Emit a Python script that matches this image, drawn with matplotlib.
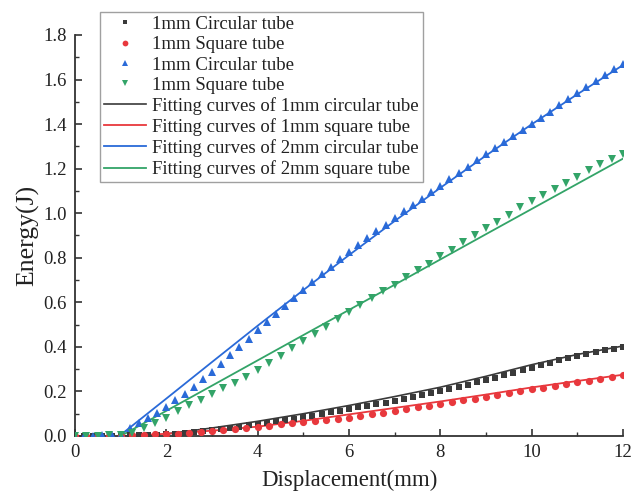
import numpy as np
import matplotlib
matplotlib.use("Agg")
import matplotlib.pyplot as plt
from matplotlib.ticker import MultipleLocator

plt.rcParams['font.family'] = ['Liberation Serif', 'DejaVu Serif']
plt.rcParams['mathtext.fontset'] = 'stix'

# ---- data ----
x_c1 = np.round(np.arange(0, 12.0001, 0.2), 2)   # circular tube series (squares, up triangles)
x_s = np.round(np.arange(0, 12.0001, 0.25), 2)   # square tube series (dots, down triangles)

circ1_y = [0.0, 0.0, 0.001, 0.001, 0.002, 0.002, 0.003, 0.004, 0.005, 0.006,
           0.009, 0.011, 0.014, 0.017, 0.021, 0.025, 0.030, 0.036, 0.042, 0.048,
           0.054, 0.060, 0.066, 0.072, 0.078, 0.085, 0.092, 0.099, 0.106, 0.114,
           0.122, 0.129, 0.136, 0.143, 0.150, 0.158, 0.166, 0.174, 0.183, 0.192,
           0.201, 0.211, 0.221, 0.231, 0.241, 0.252, 0.262, 0.273, 0.284, 0.295,
           0.306, 0.317, 0.328, 0.339, 0.349, 0.358, 0.367, 0.376, 0.384, 0.392,
           0.400]

sq1_y = [0.0, 0.0, 0.001, 0.001, 0.002, 0.003, 0.005, 0.007, 0.009, 0.011,
         0.014, 0.017, 0.021, 0.025, 0.030, 0.036, 0.042, 0.047, 0.052, 0.057,
         0.062, 0.067, 0.072, 0.077, 0.082, 0.090, 0.097, 0.105, 0.113, 0.120,
         0.128, 0.136, 0.144, 0.152, 0.160, 0.168, 0.176, 0.184, 0.192, 0.200,
         0.209, 0.217, 0.225, 0.233, 0.241, 0.249, 0.257, 0.265, 0.273]

circ2_y = [0.0, 0.001, 0.002, 0.003, 0.004, 0.005, 0.034, 0.058, 0.081, 0.104,
           0.128, 0.160, 0.190, 0.222, 0.255, 0.289, 0.325, 0.362, 0.399, 0.437,
           0.474, 0.511, 0.548, 0.584, 0.620, 0.656, 0.690, 0.725, 0.760, 0.795,
           0.828, 0.858, 0.888, 0.918, 0.948, 0.978, 1.008, 1.037, 1.066, 1.095,
           1.124, 1.153, 1.181, 1.209, 1.237, 1.265, 1.292, 1.320, 1.347, 1.374,
           1.402, 1.429, 1.456, 1.484, 1.511, 1.538, 1.565, 1.592, 1.619, 1.646,
           1.672]

sq2_y = [0.0, 0.001, 0.002, 0.003, 0.004, 0.015, 0.035, 0.058, 0.083, 0.110,
         0.137, 0.163, 0.188, 0.214, 0.240, 0.266, 0.296, 0.328, 0.361, 0.394,
         0.427, 0.457, 0.490, 0.523, 0.557, 0.590, 0.620, 0.650, 0.680, 0.712,
         0.743, 0.774, 0.806, 0.837, 0.870, 0.902, 0.932, 0.962, 0.994, 1.026,
         1.054, 1.082, 1.109, 1.136, 1.164, 1.192, 1.220, 1.244, 1.266]

# fitting curves
fit_c1_x = [1.95, 3, 4, 5, 6, 7, 8, 9, 10, 11, 12]
fit_c1_y = [0.008, 0.036, 0.066, 0.100, 0.137, 0.177, 0.219, 0.268, 0.320, 0.366, 0.404]
fit_s1_x = [1.1, 2, 3, 4, 5, 6, 7, 8, 9, 10, 11, 12]
fit_s1_y = [0.0, 0.010, 0.024, 0.042, 0.068, 0.097, 0.126, 0.155, 0.186, 0.218, 0.247, 0.275]
fit_c2_x = [0.97, 2, 3, 4, 5, 6, 7, 8, 9, 10, 11, 12]
fit_c2_y = [0.0, 0.168, 0.332, 0.495, 0.655, 0.812, 0.965, 1.114, 1.259, 1.399, 1.534, 1.665]
fit_s2_x = [1.0, 3, 5, 7, 9, 12]
fit_s2_y = [0.0, 0.226, 0.453, 0.679, 0.906, 1.245]

labels_pts = ["1mm Circular tube", "1mm Square tube", "1mm Circular tube", "1mm Square tube"]
labels_fit = ["Fitting curves of 1mm circular tube", "Fitting curves of 1mm square tube",
              "Fitting curves of 2mm circular tube", "Fitting curves of 2mm square tube"]

c_black = '#3a3a3a'
c_red = '#e8383d'
c_blue = '#2a6ad8'
c_green = '#33a468'

fig = plt.figure(figsize=(6.41, 4.95), dpi=100)
ax = fig.add_axes([75/641, 1-436/495, (623-75)/641, (436-35)/495])

ax.plot(x_c1, circ1_y, 's', color=c_black, ms=4.4, mew=0, label=labels_pts[0], zorder=3)
ax.plot(x_s, sq1_y, 'o', color=c_red, ms=5.2, mew=0, label=labels_pts[1], zorder=3)
ax.plot(x_c1, circ2_y, '^', color=c_blue, ms=6.0, mew=0, label=labels_pts[2], zorder=3)
ax.plot(x_s, sq2_y, 'v', color=c_green, ms=6.0, mew=0, label=labels_pts[3], zorder=3)

ax.plot(fit_c1_x, fit_c1_y, '-', color=c_black, lw=1.2, label=labels_fit[0], zorder=2)
ax.plot(fit_s1_x, fit_s1_y, '-', color=c_red, lw=1.3, label=labels_fit[1], zorder=2)
ax.plot(fit_c2_x, fit_c2_y, '-', color=c_blue, lw=1.3, label=labels_fit[2], zorder=2)
ax.plot(fit_s2_x, fit_s2_y, '-', color=c_green, lw=1.3, label=labels_fit[3], zorder=2)

ax.set_xlim(0, 12)
ax.set_ylim(0, 1.8)
ax.xaxis.set_major_locator(MultipleLocator(2))
ax.xaxis.set_minor_locator(MultipleLocator(1))
ax.yaxis.set_major_locator(MultipleLocator(0.2))
ax.yaxis.set_minor_locator(MultipleLocator(0.1))
ax.yaxis.set_major_formatter(plt.FuncFormatter(lambda v, p: f"{v:.1f}"))

for s in ['top', 'right']:
    ax.spines[s].set_visible(False)
for s in ['left', 'bottom']:
    ax.spines[s].set_color('#333333')
    ax.spines[s].set_linewidth(1.3)

ax.tick_params(which='both', direction='in', colors='#333333', labelcolor='#222222')
ax.tick_params(which='major', length=5, width=1.2, labelsize=13.5, pad=6)
ax.tick_params(which='minor', length=3, width=1.0)

ax.set_xlabel("Displacement(mm)", fontsize=16.5, color='#222222', labelpad=6)
ax.set_ylabel("Energy(J)", fontsize=18.5, color='#222222', labelpad=3)

leg = ax.legend(loc='upper left', bbox_to_anchor=(100/641, 1-12/495),
                bbox_transform=fig.transFigure, fontsize=13.5, frameon=True,
                fancybox=False, shadow=False, borderpad=0.2, labelspacing=0.17,
                handlelength=2.25, handletextpad=0.35, borderaxespad=0,
                markerscale=0.8)
leg.get_frame().set_edgecolor('#888888')
leg.get_frame().set_linewidth(1.0)
for t in leg.get_texts():
    t.set_color('#222222')

fig.savefig("out.png", dpi=100)
